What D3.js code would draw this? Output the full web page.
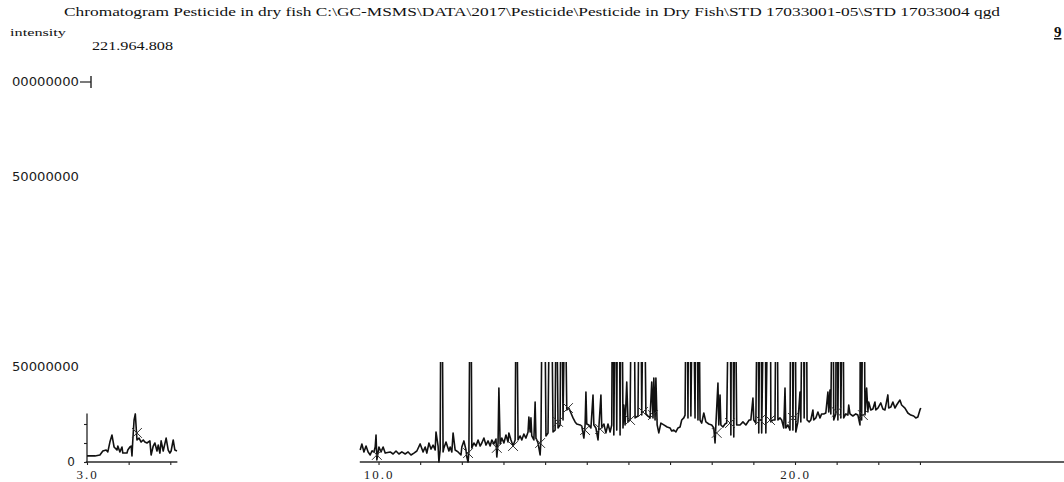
<!DOCTYPE html>
<html>
<head>
<meta charset="utf-8">
<script src="https://cdn.jsdelivr.net/npm/d3@7"></script>
<style>
  html, body { margin: 0; padding: 0; background: #fff; }
  svg { display: block; }
</style>
</head>
<body>
<svg id="chart" width="1064" height="482"></svg>
<script>
// ---- text ----
const titleText = "Chromatogram Pesticide in dry fish C:\\GC-MSMS\\DATA\\2017\\Pesticide\\Pesticide in Dry Fish\\STD 17033001-05\\STD 17033004 qgd";
const yAxisTitle = "intensity";
const maxIntensityLabel = "221.964.808";
const pageMark = "9";

// ---- early window: retention time (min) / intensity (millions) ----
const earlyTime = [3.00, 3.19, 3.31, 3.38, 3.46, 3.50, 3.55, 3.60, 3.65, 3.72,
                   3.74, 3.79, 3.84, 3.86, 3.96, 3.98, 4.03, 4.06, 4.08, 4.10,
                   4.13, 4.16, 4.20, 4.25, 4.30, 4.35, 4.39, 4.44, 4.51, 4.54,
                   4.59, 4.63, 4.68, 4.71, 4.75, 4.78, 4.83, 4.90, 4.95, 4.99,
                   5.02, 5.07, 5.11, 5.16];
const earlyIntensity = [3.2, 3.2, 3.7, 5.8, 6.3, 5.3, 10.5, 14.2, 7.9, 6.3,
                        8.4, 5.3, 7.9, 4.7, 4.7, 6.3, 7.9, 8.4, 3.2, 11.6,
                        22.1, 25.3, 11.6, 12.6, 10.5, 11.6, 10.5, 10.0, 11.1, 3.7,
                        8.4, 10.0, 5.8, 8.9, 4.7, 11.1, 5.8, 12.6, 6.3, 4.7,
                        5.8, 11.6, 6.3, 5.8];

// ---- main window: retention time (min) / intensity (millions) ----
const mainTime = [
  9.56, 9.60, 9.65, 9.70, 9.75, 9.80, 9.84, 9.89, 9.92, 9.94,
  9.96, 10.01, 10.06, 10.11, 10.16, 10.28, 10.35, 10.42, 10.49, 10.56,
  10.64, 10.71, 10.78, 10.85, 10.92, 11.00, 11.07, 11.12, 11.16, 11.21,
  11.26, 11.31, 11.36, 11.38, 11.43, 11.45, 11.48, 11.51, 11.55, 11.57,
  11.62, 11.69, 11.72, 11.76, 11.79, 11.84, 11.91, 11.98, 12.00, 12.05,
  12.10, 12.12, 12.15, 12.17, 12.21, 12.24, 12.29, 12.34, 12.39, 12.44,
  12.48, 12.53, 12.58, 12.63, 12.68, 12.72, 12.77, 12.82, 12.84, 12.87,
  12.89, 12.92, 12.96, 13.01, 13.06, 13.11, 13.13, 13.18, 13.23, 13.28,
  13.31, 13.35, 13.40, 13.44, 13.49, 13.54, 13.59, 13.61, 13.64, 13.66,
  13.68, 13.73, 13.76, 13.78, 13.83, 13.88, 13.90, 13.96, 14.02, 14.07,
  14.13, 14.19, 14.24, 14.27, 14.31, 14.36, 14.39, 14.43, 14.48, 14.52,
  14.57, 14.62, 14.67, 14.72, 14.76, 14.84, 14.88, 14.93, 14.96, 14.98,
  15.00, 15.05, 15.10, 15.15, 15.17, 15.22, 15.27, 15.29, 15.34, 15.36,
  15.41, 15.46, 15.51, 15.56, 15.60, 15.63, 15.65, 15.69, 15.72, 15.76,
  15.80, 15.83, 15.87, 15.89, 15.92, 15.96, 15.99, 16.04, 16.11, 16.16,
  16.23, 16.28, 16.32, 16.37, 16.42, 16.47, 16.52, 16.56, 16.59, 16.61,
  16.64, 16.66, 16.69, 16.73, 16.78, 16.85, 16.93, 17.00, 17.04, 17.09,
  17.14, 17.19, 17.24, 17.28, 17.33, 17.36, 17.40, 17.43, 17.46, 17.50,
  17.55, 17.60, 17.63, 17.67, 17.69, 17.72, 17.76, 17.81, 17.86, 17.93,
  18.00, 18.05, 18.08, 18.10, 18.15, 18.17, 18.20, 18.22, 18.27, 18.32,
  18.36, 18.44, 18.46, 18.49, 18.53, 18.56, 18.60, 18.68, 18.75, 18.82,
  18.90, 18.94, 18.99, 19.01, 19.06, 19.11, 19.13, 19.18, 19.20, 19.28,
  19.30, 19.40, 19.42, 19.47, 19.52, 19.56, 19.59, 19.64, 19.68, 19.73,
  19.76, 19.78, 19.83, 19.88, 19.92, 19.95, 20.00, 20.02, 20.07, 20.12,
  20.14, 20.19, 20.22, 20.26, 20.29, 20.34, 20.38, 20.43, 20.45, 20.50,
  20.55, 20.60, 20.64, 20.69, 20.74, 20.79, 20.81, 20.84, 20.86, 20.91,
  20.93, 20.98, 21.00, 21.03, 21.08, 21.10, 21.15, 21.17, 21.22, 21.27,
  21.29, 21.32, 21.39, 21.46, 21.51, 21.56, 21.58, 21.60, 21.65, 21.68,
  21.72, 21.75, 21.77, 21.82, 21.87, 21.92, 21.94, 21.99, 22.06, 22.11,
  22.16, 22.23, 22.25, 22.30, 22.35, 22.40, 22.44, 22.52, 22.56, 22.64,
  22.71, 22.78, 22.85, 22.90, 22.95, 23.00, 23.02
];
const mainIntensity = [
  6.3, 9.5, 5.3, 8.4, 5.3, 3.7, 5.8, 5.3, 7.9, 14.2,
  1.1, 7.9, 5.3, 7.9, 4.7, 5.3, 4.2, 5.8, 4.2, 5.3,
  4.2, 5.3, 3.7, 4.7, 5.8, 9.5, 5.3, 7.9, 4.7, 10.0,
  6.8, 8.9, 6.3, 15.8, 8.4, 0.0, 6.3, 160, 5.3, 7.4,
  10.5, 5.8, 7.9, 5.3, 15.3, 6.3, 5.3, 3.7, 7.9, 11.1,
  6.3, 2.6, 0.0, 5.3, 140, 7.4, 10.0, 8.4, 11.6, 8.4,
  10.0, 12.6, 8.9, 11.1, 8.4, 11.6, 9.5, 12.1, 2.6, 10.0,
  38.9, 9.5, 12.6, 10.0, 14.2, 10.5, 15.3, 11.6, 8.4, 11.6,
  120, 11.6, 13.7, 11.6, 14.7, 12.6, 15.8, 23.7, 15.8, 23.2,
  13.7, 11.6, 31.6, 12.6, 10.0, 3.7, 11.6, 180, 13.7, 15.3,
  150, 15.8, 16.8, 110, 17.9, 19.5, 130, 22.1, 100, 27.4,
  28.4, 25.8, 23.2, 21.1, 20.0, 19.5, 18.9, 12.6, 19.5, 36.8,
  20.0, 19.5, 17.9, 35.3, 19.5, 17.9, 11.6, 17.9, 35.3, 17.9,
  20.0, 15.3, 20.0, 15.8, 19.5, 170, 14.2, 120, 16.8, 200,
  14.2, 150, 17.9, 30.0, 19.5, 42.1, 21.1, 22.1, 190, 23.2,
  24.2, 160, 24.7, 130, 25.3, 24.2, 23.2, 42.1, 23.2, 44.2,
  22.1, 44.2, 19.5, 15.3, 20.5, 19.5, 18.4, 17.9, 16.3, 16.8,
  15.8, 17.9, 18.4, 22.1, 23.2, 24.7, 140, 23.2, 170, 24.2,
  120, 23.2, 160, 22.1, 110, 22.1, 20.5, 25.8, 21.1, 20.0,
  19.5, 17.9, 10.0, 19.5, 41.6, 19.5, 35.3, 19.5, 18.4, 20.0,
  20.5, 150, 14.2, 180, 13.2, 120, 19.5, 19.5, 21.1, 19.5,
  22.1, 22.1, 33.7, 22.1, 20.5, 130, 15.3, 160, 15.3, 140,
  15.3, 170, 21.1, 22.1, 22.1, 150, 22.1, 23.2, 22.1, 17.9,
  38.9, 17.9, 19.5, 16.8, 190, 16.8, 160, 15.8, 21.1, 36.8,
  21.1, 140, 23.2, 170, 22.1, 21.1, 22.1, 27.4, 22.1, 23.2,
  26.3, 23.2, 25.3, 25.3, 25.8, 36.8, 26.3, 37.9, 25.3, 130,
  22.1, 25.3, 180, 22.1, 150, 23.2, 120, 23.2, 25.3, 24.7,
  30.0, 25.3, 24.2, 25.3, 24.7, 19.5, 160, 22.1, 140, 24.7,
  38.9, 26.3, 31.6, 27.4, 27.9, 31.6, 27.4, 28.4, 31.1, 27.9,
  27.4, 35.3, 28.4, 28.9, 31.6, 28.4, 30.0, 32.6, 30.0, 28.4,
  25.8, 24.7, 24.2, 23.2, 23.7, 27.4, 28.4
];

// ---- integration baseline points (min / millions) ----
const baselineTime = [4.20, 9.96, 12.15, 12.84, 13.23, 13.88, 14.31, 14.55, 14.96, 15.32,
                      16.04, 16.35, 16.59, 18.12, 18.44, 19.16, 19.40, 19.95, 21.00, 21.63];
const baselineIntensity = [15.3, 3.7, 4.7, 7.4, 8.4, 10.0, 21.1, 28.4, 16.8, 17.4,
                           22.1, 26.3, 24.7, 15.3, 20.5, 22.1, 22.1, 23.2, 26.3, 24.7];

// ---- axes ----
const earlyTimeTicks = [3, 4, 5];
const mainTimeTicks = [10, 11, 12, 13, 14, 15, 16, 17, 18, 19, 20, 21, 22, 23];
const timeTickLabels = { 3: "3.0", 10: "10.0", 20: "20.0" };
const earlyAxisSpan = [2.97, 5.17];
const mainAxisSpan = [9.55, 26.46];
const intensityTicks = [200, 150, 50];
const intensityTickLabels = ["00000000", "50000000", "50000000"];
const earlyIntensityTicks = [0, 10, 20];
const earlyIntensityTop = 25.5;
const visibleTopMain = 52.6;
const visibleTopEarly = 25.8;

const svg = d3.select("#chart");
const W = 1064, H = 482;

const x = d3.scaleLinear().domain([3, 20]).range([87, 795]);
const y = d3.scaleLinear().domain([0, 200]).range([462, 82]);

const ink = "#111";
const serif = "'Liberation Serif', 'DejaVu Serif', serif";
const rounded = "'DejaVu Sans', 'Noto Sans', sans-serif";

// header texts
svg.append("text")
  .attr("x", 64).attr("y", 16)
  .attr("font-family", serif).attr("font-size", 12.5)
  .attr("fill", ink)
  .attr("textLength", 936).attr("lengthAdjust", "spacingAndGlyphs")
  .text(titleText);

svg.append("text")
  .attr("x", 10).attr("y", 36)
  .attr("font-family", serif).attr("font-size", 11)
  .attr("fill", ink)
  .attr("textLength", 56).attr("lengthAdjust", "spacingAndGlyphs")
  .text(yAxisTitle);

svg.append("text")
  .attr("x", 92).attr("y", 50)
  .attr("font-family", serif).attr("font-size", 13)
  .attr("fill", ink)
  .attr("textLength", 81).attr("lengthAdjust", "spacingAndGlyphs")
  .text(maxIntensityLabel);

svg.append("text")
  .attr("x", 1054).attr("y", 37)
  .attr("font-family", serif).attr("font-size", 15).attr("font-weight", "bold")
  .attr("fill", ink)
  .attr("text-decoration", "underline")
  .text(pageMark);

// intensity labels down the left edge
const yLab = svg.append("g");
intensityTicks.forEach((v, i) => {
  yLab.append("text")
    .attr("x", 79).attr("y", y(v)).attr("dy", "0.36em")
    .attr("text-anchor", "end")
    .attr("font-family", rounded).attr("font-size", 11.5)
    .attr("fill", "#1a1a1a")
    .attr("textLength", 67).attr("lengthAdjust", "spacingAndGlyphs")
    .text(intensityTickLabels[i]);
});
// top-of-scale marker
yLab.append("line")
  .attr("x1", 80).attr("x2", 91).attr("y1", y(200)).attr("y2", y(200))
  .attr("stroke", "#222").attr("stroke-width", 1.2);
yLab.append("line")
  .attr("x1", 91).attr("x2", 91).attr("y1", y(200) - 6).attr("y2", y(200) + 6)
  .attr("stroke", "#222").attr("stroke-width", 1.4);

// clip regions
const defs = svg.append("defs");
defs.append("clipPath").attr("id", "clipMain").append("rect")
  .attr("x", x(mainAxisSpan[0]) - 4).attr("y", y(visibleTopMain))
  .attr("width", x(23.2) - x(mainAxisSpan[0]) + 4)
  .attr("height", y(0) - y(visibleTopMain) + 12);
defs.append("clipPath").attr("id", "clipEarly").append("rect")
  .attr("x", x(earlyAxisSpan[0])).attr("y", y(visibleTopEarly))
  .attr("width", x(earlyAxisSpan[1]) - x(earlyAxisSpan[0]) + 1)
  .attr("height", y(0) - y(visibleTopEarly) + 12);

// axis styling helper
function styleAxis(g) {
  g.select(".domain").remove();
  g.selectAll(".tick line").attr("stroke", "#222").attr("stroke-width", 1.1);
  g.selectAll(".tick text")
    .attr("font-family", serif).attr("font-size", 13)
    .attr("letter-spacing", "2px").attr("fill", "#222");
}

// time axes
const fmt = d => timeTickLabels[d] || "";
const gxEarly = svg.append("g").attr("transform", `translate(0,${y(0)})`)
  .call(d3.axisBottom(x).tickValues(earlyTimeTicks).tickSize(3).tickPadding(5).tickFormat(fmt));
styleAxis(gxEarly);
const gxMain = svg.append("g").attr("transform", `translate(0,${y(0)})`)
  .call(d3.axisBottom(x).tickValues(mainTimeTicks).tickSize(3).tickPadding(5).tickFormat(fmt));
styleAxis(gxMain);

[earlyAxisSpan, mainAxisSpan].forEach(s => {
  svg.append("line")
    .attr("x1", x(s[0])).attr("x2", Math.min(W, x(s[1])))
    .attr("y1", y(0)).attr("y2", y(0))
    .attr("stroke", "#2a2a2a").attr("stroke-width", 1.3);
});

// early window intensity axis
const gyEarly = svg.append("g").attr("transform", `translate(${x(3)},0)`)
  .call(d3.axisLeft(y).tickValues(earlyIntensityTicks).tickSize(3).tickPadding(9)
    .tickFormat(d => d === 0 ? "0" : ""));
gyEarly.select(".domain").remove();
gyEarly.selectAll(".tick line").attr("stroke", "#222").attr("stroke-width", 1.1);
gyEarly.selectAll(".tick text")
  .attr("font-family", rounded).attr("font-size", 12).attr("fill", "#222");
svg.append("line")
  .attr("x1", x(3)).attr("x2", x(3))
  .attr("y1", y(0)).attr("y2", y(earlyIntensityTop))
  .attr("stroke", "#222").attr("stroke-width", 1.3);

// traces
const trace = (T, V) => d3.line()
  .x(i => x(T[i]))
  .y(i => y(V[i]))(d3.range(T.length));

svg.append("path")
  .attr("clip-path", "url(#clipEarly)")
  .attr("d", trace(earlyTime, earlyIntensity))
  .attr("fill", "none").attr("stroke", ink)
  .attr("stroke-width", 1.6).attr("stroke-linejoin", "round");

svg.append("path")
  .attr("clip-path", "url(#clipMain)")
  .attr("d", trace(mainTime, mainIntensity))
  .attr("fill", "none").attr("stroke", ink)
  .attr("stroke-width", 1.6).attr("stroke-linejoin", "round");

// baseline markers
const cross = d3.symbol().type(d3.symbolTimes || d3.symbolX).size(64);
svg.append("g").selectAll("path")
  .data(d3.range(baselineTime.length))
  .join("path")
  .attr("transform", i => `translate(${x(baselineTime[i])},${y(baselineIntensity[i])})`)
  .attr("d", cross)
  .attr("fill", "none").attr("stroke", "#333").attr("stroke-width", 1);
</script>
</body>
</html>
